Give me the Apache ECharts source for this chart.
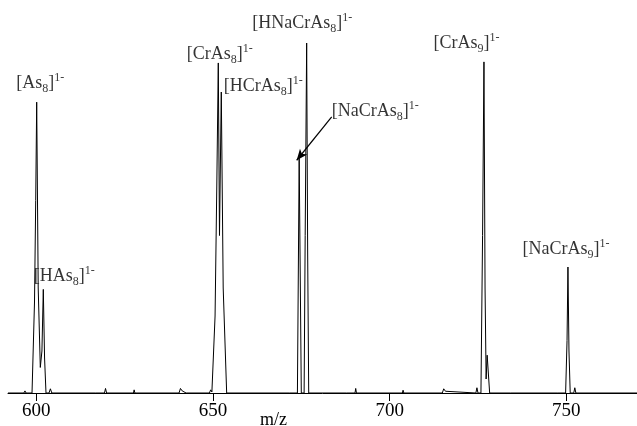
<!DOCTYPE html>
<html style="height: 100%">
<head>
    <meta charset="utf-8">
</head>
<body style="height: 100%; margin: 0">
<div id="container" style="width: 637px; height: 426px"></div>

<script type="text/javascript" src="https://cdn.jsdelivr.net/npm/echarts@6/dist/echarts.min.js"></script>

<script type="text/javascript">
    // spectrum trace, m/z and relative intensity (HNaCrAs8 = 100)
    var spectrumMz = [
        592, 596.5, 596.8, 597.1, 598.8, 599.5, 599.84, 600.12, 600.55, 601.14, 601.6, 601.99, 602.35, 602.75,
        603.6, 604.0, 604.4, 616.7, 616.9, 617.1, 619.3, 619.6, 619.9, 627.5, 627.7, 627.9,
        640.4, 640.8, 641.3, 641.8, 642.4, 649.0, 649.35, 649.7, 650.6, 651.1, 651.51, 651.85, 652.36, 652.9, 653.88,
        671.6, 671.8, 672.0, 673.9, 674.4, 675.0, 675.8, 676.1, 676.52, 676.8, 677.1,
        687.8, 688.0, 688.2, 690.2, 690.4, 690.6, 703.6, 703.8, 704.0,
        714.9, 715.3, 715.8, 716.3, 724.4, 724.7, 725.0, 725.84, 726.3, 726.69, 727.0, 727.3, 727.6, 728.3,
        734.2, 734.4, 734.6, 747.6, 747.8, 748.0, 749.8, 750.2, 750.46, 750.75, 751.1, 752.1, 752.4, 752.7, 770
    ];
    var spectrumInt = [
        0, 0, 0.6, 0, 0, 26, 55, 83.1, 30, 7.3, 12, 29.6, 10, 0,
        0, 1.2, 0, 0, 0.5, 0, 0, 1.3, 0, 0, 0.9, 0,
        0, 1.3, 0.6, 1.0, 0, 0, 0.9, 0.3, 22, 60, 94.3, 45, 86, 30, 0,
        0, 0.4, 0, 0, 67.1, 0, 0, 45, 100, 40, 0,
        0, 0.3, 0, 0, 1.3, 0, 0, 0.8, 0,
        0, 1.2, 0.5, 0, 0, 1.5, 0, 0, 45, 94.6, 30, 4, 10.8, 0,
        0, 0.3, 0, 0, 0.5, 0, 0, 15, 36, 12, 0, 0, 1.5, 0, 0
    ];

    // annotated ions
    var ionMain = ['[As', '[HAs', '[CrAs', '[HCrAs', '[HNaCrAs', '[NaCrAs', '[CrAs', '[NaCrAs'];
    var ionSub = ['8', '8', '8', '8', '8', '8', '9', '9'];
    var ionMz = [600.12, 601.99, 651.51, 652.36, 676.52, 674.4, 726.69, 750.46];
    var ionInt = [83.1, 29.6, 94.3, 86, 100, 67.1, 94.6, 36];
    var charge = '1-';

    var xTicks = [600, 650, 700, 750];

    // label placement relative to each peak top (px)
    var labelOffsets = [[-20, -18], [-9, -13], [-31, -8], [3, -5], [-54, -19], [33, -46], [-50, -18], [-45, -17]];

    var serif = 'Liberation Serif';

    var spectrum = spectrumMz.map(function (m, i) {
        return [m, spectrumInt[i]];
    });

    var ions = ionMz.map(function (m, i) {
        return {
            value: [m, ionInt[i]],
            label: {
                position: labelOffsets[i],
                formatter: '{m|' + ionMain[i] + '}{s|' + ionSub[i] + '}{m|]}{p|' + charge + '}'
            }
        };
    });

    var dom = document.getElementById('container');
    var myChart = echarts.init(dom);

    var option = {
        animation: false,
        backgroundColor: '#fff',
        grid: {left: 8, right: 0, top: 43, bottom: 33},
        xAxis: {
            type: 'value',
            min: 592,
            max: 770,
            splitLine: {show: false},
            axisLine: {lineStyle: {color: '#000', width: 1}},
            axisTick: {
                show: true,
                inside: false,
                length: 8,
                customValues: xTicks,
                lineStyle: {color: '#000'}
            },
            axisLabel: {
                customValues: xTicks,
                margin: 9,
                color: '#000',
                fontFamily: serif,
                fontSize: 19
            }
        },
        yAxis: {
            type: 'value',
            min: 0,
            max: 100,
            show: false
        },
        graphic: [{
            type: 'text',
            left: 260,
            top: 411,
            style: {text: 'm/z', font: '18px "Liberation Serif"', fill: '#000'}
        }],
        series: [
            {
                type: 'line',
                data: spectrum,
                showSymbol: false,
                lineStyle: {color: '#000', width: 1},
                markLine: {
                    silent: true,
                    symbol: ['none', 'arrow'],
                    symbolSize: [7, 11],
                    label: {show: false},
                    lineStyle: {color: '#000', width: 1.2, type: 'solid'},
                    data: [[{coord: [683.6, 78.9]}, {coord: [673.7, 66.5]}]]
                }
            },
            {
                type: 'scatter',
                data: ions,
                symbolSize: 1,
                itemStyle: {color: 'transparent'},
                silent: true,
                z: 5,
                label: {
                    show: true,
                    align: 'left',
                    verticalAlign: 'middle',
                    rich: {
                        m: {fontFamily: serif, fontSize: 18, lineHeight: 23, color: '#000', verticalAlign: 'middle'},
                        s: {fontFamily: serif, fontSize: 12, lineHeight: 12, color: '#000', verticalAlign: 'bottom'},
                        p: {fontFamily: serif, fontSize: 12, lineHeight: 12, color: '#000', verticalAlign: 'top'}
                    }
                }
            }
        ]
    };

    myChart.setOption(option);
</script>
</body>
</html>
